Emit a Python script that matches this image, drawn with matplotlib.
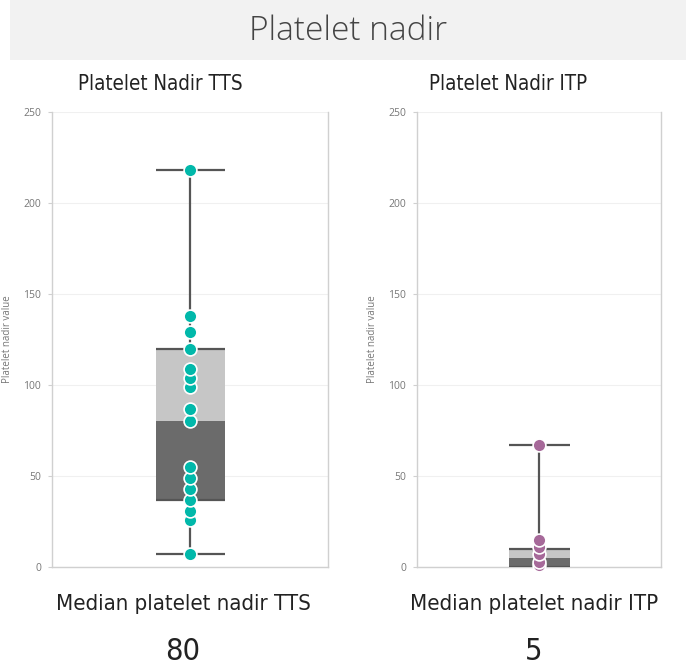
import matplotlib
matplotlib.use("Agg")
import matplotlib.pyplot as plt
from matplotlib.patches import Rectangle

# ---- data ----
tts_values = [7, 26, 31, 37, 43, 49, 55, 80, 87, 99, 104, 109, 120, 129, 138, 218]
itp_values = [1, 3, 7, 11, 15, 67]
# box statistics: [min, q1, median, q3, max]
tts_stats = [7, 37, 80, 120, 218]
itp_stats = [0, 0, 5, 10, 67]
medians = [80, 5]
panel_titles = ["Platelet Nadir TTS", "Platelet Nadir ITP"]
card_labels = ["Median platelet nadir TTS", "Median platelet nadir ITP"]
point_colors = ["#01B8AA", "#A66999"]
y_ticks = [0, 50, 100, 150, 200, 250]

FONT = "Open Sans"
NARROW = ["DejaVu Sans"]
plt.rcParams['font.family'] = [FONT, 'DejaVu Sans']

fig = plt.figure(figsize=(6.86, 6.65), dpi=100)

# title band
fig.patches.append(Rectangle((10 / 686, 1 - 60 / 665), 676 / 686, 60 / 665,
                             transform=fig.transFigure, facecolor="#f2f2f2",
                             edgecolor="none", zorder=0))
fig.text(348 / 686, 1 - 31 / 665, "Platelet nadir", ha="center", va="center",
         fontsize=24, color="#444444", fontweight="light")

axes_rects = [
    [52 / 686, 1 - 567 / 665, (328 - 52) / 686, (567 - 112) / 665],
    [417 / 686, 1 - 567 / 665, (661 - 417) / 686, (567 - 112) / 665],
]
values_list = [tts_values, itp_values]
stats_list = [tts_stats, itp_stats]
title_x = [160 / 686, 508 / 686]
card_x = [183 / 686, 534 / 686]

for i in range(2):
    ax = fig.add_axes(axes_rects[i])
    vals = values_list[i]
    mn, q1, med, q3, mx = stats_list[i]
    w = 1.0
    # whisker
    ax.vlines(0, mn, mx, color="#555555", lw=1.6, zorder=1)
    ax.hlines([mn, mx], -w / 2, w / 2, color="#555555", lw=1.6, zorder=1)
    # box
    ax.bar(0, med - q1, bottom=q1, width=w, color="#6b6b6b", zorder=2, linewidth=0)
    ax.bar(0, q3 - med, bottom=med, width=w, color="#c6c6c6", zorder=2, linewidth=0)
    ax.hlines([q1, q3], -w / 2, w / 2, color="#555555", lw=1.6, zorder=3)
    # points
    ax.scatter([0] * len(vals), vals, s=85, color=point_colors[i],
               edgecolor="white", linewidth=1.2, zorder=4, clip_on=False)

    ax.set_xlim(-2, 2)
    ax.set_ylim(0, 250)
    ax.set_yticks(y_ticks)
    ax.set_xticks([])
    ax.tick_params(axis="y", labelsize=7.5, length=3, width=0.8, pad=5,
                   color="#d0d0d0", labelcolor="#777777")
    ax.grid(axis="y", color="#f0f0f0", lw=0.8)
    ax.set_axisbelow(True)
    for s in ["left", "right", "bottom"]:
        ax.spines[s].set_color("#d0d0d0")
        ax.spines[s].set_linewidth(1.0)
    ax.spines["top"].set_visible(False)
    ax.set_ylabel("Platelet nadir value", fontsize=7, color="#777777", labelpad=7)

    fig.text(title_x[i], 1 - 84 / 665, panel_titles[i], ha="center", va="center",
             fontsize=14.8, color="#222222", family=NARROW, fontstretch="condensed")
    fig.text(card_x[i], 1 - 604 / 665, card_labels[i], ha="center", va="center",
             fontsize=15.9, color="#222222", family=NARROW, fontstretch="condensed")
    fig.text(card_x[i], 1 - 652 / 665, str(medians[i]), ha="center", va="center",
             fontsize=22, color="#222222", family=NARROW, fontstretch="condensed")

fig.savefig("out.png", dpi=100)
